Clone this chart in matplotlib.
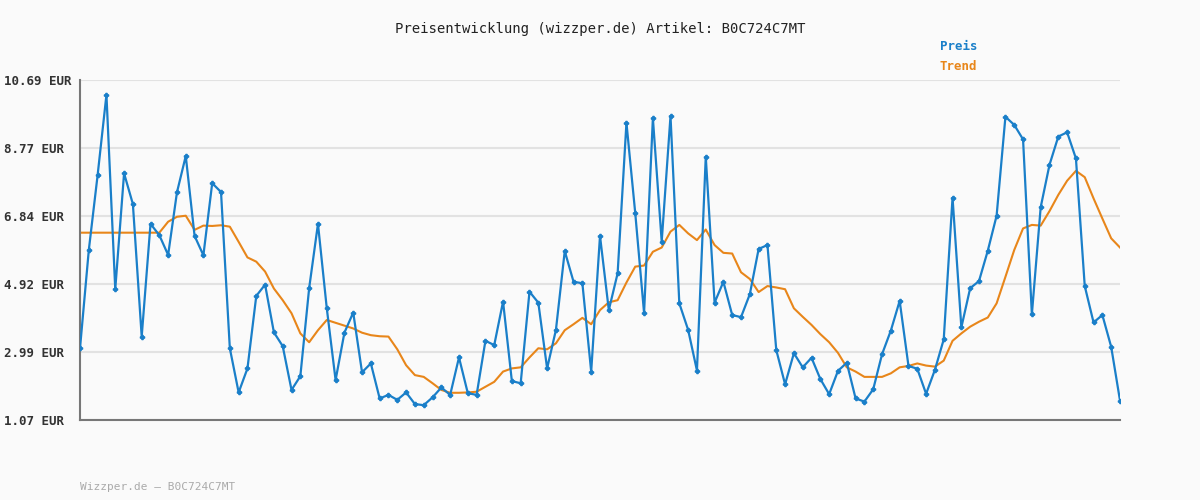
import matplotlib.pyplot as plt

# price readings (EUR), one per sample
preis = [3.10, 5.88, 8.00, 10.27, 4.77, 8.05, 7.18, 3.43, 6.62, 6.30,
         5.74, 7.51, 8.54, 6.28, 5.73, 7.77, 7.52, 3.10, 1.85, 2.53,
         4.58, 4.90, 3.55, 3.16, 1.92, 2.31, 4.80, 6.62, 4.23, 2.20,
         3.54, 4.11, 2.42, 2.67, 1.68, 1.78, 1.64, 1.85, 1.52, 1.49,
         1.71, 1.99, 1.78, 2.84, 1.83, 1.78, 3.31, 3.19, 4.42, 2.17,
         2.11, 4.70, 4.39, 2.53, 3.62, 5.85, 4.98, 4.94, 2.44, 6.28,
         4.18, 5.22, 9.48, 6.92, 4.10, 9.61, 6.12, 9.67, 4.37, 3.62,
         2.47, 8.52, 4.39, 4.98, 4.04, 3.98, 4.63, 5.91, 6.02, 3.05,
         2.08, 2.96, 2.56, 2.83, 2.23, 1.80, 2.46, 2.69, 1.68, 1.59,
         1.94, 2.93, 3.60, 4.44, 2.60, 2.52, 1.81, 2.49, 3.35, 7.36,
         3.69, 4.80, 5.00, 5.86, 6.85, 9.65, 9.42, 9.01, 4.06, 7.09,
         8.29, 9.09, 9.21, 8.47, 4.86, 3.83, 4.04, 3.14, 1.62]

trend = [6.37] * 10 + [
         6.68, 6.82, 6.85, 6.45, 6.57, 6.56, 6.58, 6.54, 6.11, 5.67,
         5.55, 5.27, 4.79, 4.46, 4.09, 3.52, 3.27, 3.61, 3.90, 3.82,
         3.74, 3.66, 3.54, 3.47, 3.44, 3.43, 3.07, 2.62, 2.34, 2.29,
         2.11, 1.92, 1.84, 1.84, 1.85, 1.87, 2.01, 2.15, 2.44, 2.53,
         2.56, 2.84, 3.10, 3.07, 3.24, 3.61, 3.78, 3.96, 3.78, 4.18,
         4.40, 4.46, 4.96, 5.41, 5.44, 5.83, 5.95, 6.40, 6.59, 6.35,
         6.16, 6.46, 6.02, 5.80, 5.78, 5.25, 5.06, 4.69, 4.86, 4.82,
         4.77, 4.23, 3.99, 3.76, 3.50, 3.27, 2.97, 2.56, 2.44, 2.29,
         2.29, 2.29, 2.39, 2.56, 2.60, 2.67, 2.61, 2.58, 2.75, 3.31,
         3.52, 3.71, 3.85, 3.97, 4.37, 5.12, 5.88, 6.49, 6.59, 6.57,
         6.98, 7.44, 7.84, 8.12, 7.94, 7.34, 6.77, 6.21, 5.95]

y_ticks = [1.07, 2.99, 4.92, 6.84, 8.77, 10.69]
y_labels = ["1.07 EUR", "2.99 EUR", "4.92 EUR", "6.84 EUR", "8.77 EUR", "10.69 EUR"]

plt.rcParams['font.family'] = ['DejaVu Sans Mono']
blue = '#1a7fc9'
orange = '#e8861a'

fig = plt.figure(figsize=(12, 5), dpi=100, facecolor='#fafafa')
ax = fig.add_axes([80/1200, 80/500, 1040/1200, 340/500], facecolor='#fafafa')

x = list(range(len(preis)))
ax.plot(x, trend, color=orange, lw=1.5, zorder=2)
ax.plot(x, preis, color=blue, lw=1.6, marker='P', ms=3, zorder=3)

ax.set_xlim(0, len(preis) - 1)
ax.set_ylim(1.07, 10.69)
ax.set_yticks(y_ticks)
ax.set_yticklabels(y_labels, fontsize=9, fontweight='bold', color='#333333')
ax.set_xticks([])
ax.tick_params(axis='y', length=0, pad=4)
ax.grid(axis='y', color='#e2e2e2', lw=1.5)
ax.set_axisbelow(True)
for s in ['top', 'right']:
    ax.spines[s].set_visible(False)
for s in ['left', 'bottom']:
    ax.spines[s].set_color('#777777')
    ax.spines[s].set_linewidth(1.5)
for lbl in ax.get_yticklabels():
    lbl.set_horizontalalignment('left')
    lbl.set_x(-70/1040)

fig.text(0.5, 0.943, "Preisentwicklung (wizzper.de) Artikel: B0C724C7MT",
         ha='center', va='center', fontsize=10, color='#222222')
fig.text(940/1200, 0.907, "Preis", color=blue, fontsize=9, fontweight='bold', va='center')
fig.text(940/1200, 0.866, "Trend", color=orange, fontsize=9, fontweight='bold', va='center')
fig.text(80/1200, 0.026, "Wizzper.de – B0C724C7MT", color='#aaaaaa', fontsize=8, va='center')

fig.savefig('out.png', dpi=100, facecolor=fig.get_facecolor())
